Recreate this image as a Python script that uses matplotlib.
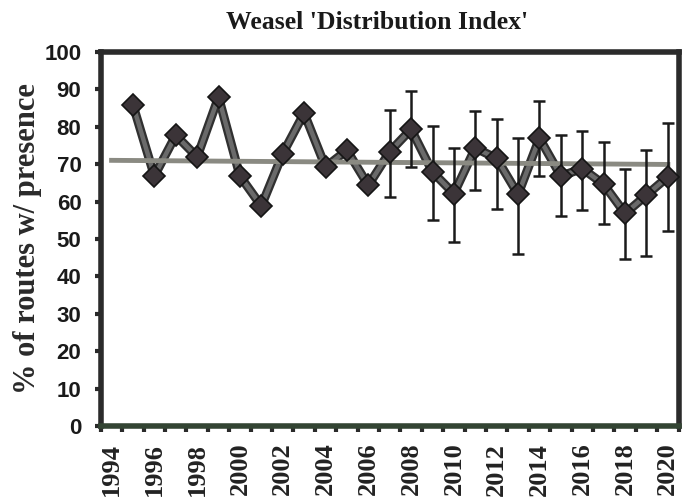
import matplotlib
matplotlib.use("Agg")
import matplotlib.pyplot as plt
import numpy as np

# weasel distribution index, % of routes with presence
years = list(range(1995, 2021))
values = [85.8, 66.8, 77.7, 71.9, 87.9, 66.8, 58.8, 72.8, 83.6, 69.2, 73.7, 64.3,
          73.3, 79.3, 67.9, 62.1, 74.3, 71.5, 61.9, 76.9, 66.8, 68.8, 64.6, 56.8,
          61.7, 66.6]

# confidence limits only exist from 2007 on
err_years = list(range(2007, 2021))
err_upper = [84.5, 89.4, 80.2, 74.2, 84.2, 82.0, 76.9, 86.9, 77.9, 78.8, 75.8, 68.6, 73.7, 80.9]
err_lower = [61.2, 69.2, 55.1, 49.1, 63.0, 58.1, 46.0, 66.8, 56.0, 57.8, 53.9, 44.7, 45.4, 52.1]

# linear trend end points
trend_years = [1994, 2020]
trend_values = [71.0, 69.9]

label_years = list(range(1994, 2021, 2))

fig = plt.figure(figsize=(6.91, 5.03), dpi=100)
ax = fig.add_axes([0.146, 0.153, 0.836, 0.744])

ax.plot(years, values, color="#303030", lw=6.5, solid_capstyle="round", zorder=2)
ax.plot(years, values, color="#6a6a6a", lw=3.2, zorder=3)
ax.plot(trend_years, trend_values, color="#8a8a82", lw=3.5, zorder=4)

ev = dict(zip(years, values))
mid = np.array([ev[y] for y in err_years])
yerr = [mid - np.array(err_lower), np.array(err_upper) - mid]
ax.errorbar(err_years, mid, yerr=yerr, fmt="none", ecolor="#1a1a1a",
            elinewidth=1.8, capsize=4, capthick=1.8, zorder=5)

ax.plot(years, values, ls="none", marker="D", ms=11.5, mfc="#3b3438",
        mec="#151515", mew=1.2, zorder=6)

ax.set_xlim(1993.5, 2020.5)
ax.set_ylim(0, 100)
ax.set_yticks(range(0, 101, 10))
ax.set_xticks(label_years)
ax.set_xticks(np.arange(1993.5, 2021, 1), minor=True)
ax.set_xticklabels([str(y) for y in label_years], rotation=90,
                   family="Liberation Serif", fontweight="bold", fontsize=19,
                   color="#222222")
for t in ax.get_yticklabels():
    t.set_family("Liberation Sans")
    t.set_fontweight("bold")
    t.set_fontsize(16)
    t.set_color("#1a1a1a")

ax.tick_params(axis="x", which="major", length=0, pad=12)
ax.tick_params(axis="x", which="minor", length=4, width=3, color="#2a2a2a")
ax.tick_params(axis="y", length=4, width=3, color="#2a2a2a", pad=10)

for side in ["left", "right", "top", "bottom"]:
    ax.spines[side].set_linewidth(4)
    ax.spines[side].set_color("#2b2b2b")
ax.spines["bottom"].set_color("#334433")

ax.set_ylabel("% of routes w/ presence", family="Liberation Serif",
              fontweight="bold", fontsize=22, color="#2a2a2a")
ax.yaxis.set_label_coords(-0.102, 0.5)
fig.text(0.545, 0.955, "Weasel 'Distribution Index'", family="Liberation Serif",
         fontweight="bold", fontsize=18.5, ha="center", va="center", color="#1a1a1a")

fig.savefig("out.png", dpi=100)
